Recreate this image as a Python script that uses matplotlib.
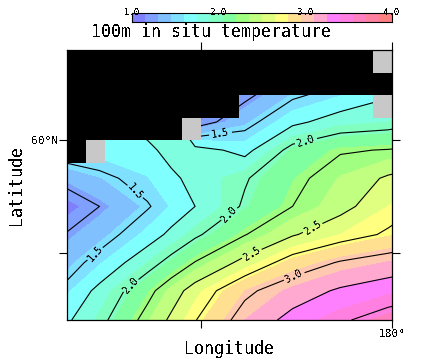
import numpy as np
import matplotlib
matplotlib.use("Agg")
import matplotlib.pyplot as plt
from matplotlib.colors import ListedColormap, BoundaryNorm

plt.rcParams['font.family'] = 'DejaVu Sans Mono'
plt.rcParams['text.antialiased'] = False

# temperature on a coarse grid, south to north
lons = [162.2, 164.7, 167.2, 168.45, 169.7, 172.3, 174.8, 177.3, 179.8, 182.3]
lats = [52.0, 53.3, 54.55, 55.8, 57.05, 58.3, 59.55, 60.8, 62.05]
temp = [
    [1.62, 1.93, 2.33, 2.54, 2.74, 3.10, 3.32, 3.47, 3.60, 3.70],
    [1.46, 1.81, 2.18, 2.39, 2.60, 2.95, 3.14, 3.28, 3.37, 3.45],
    [1.33, 1.58, 1.90, 2.08, 2.26, 2.57, 2.86, 3.02, 3.11, 3.20],
    [1.20, 1.40, 1.64, 1.80, 1.96, 2.24, 2.48, 2.65, 2.78, 2.90],
    [1.00, 1.25, 1.48, 1.61, 1.75, 2.03, 2.25, 2.43, 2.65, 2.80],
    [1.27, 1.44, 1.59, 1.71, 1.81, 1.98, 2.19, 2.36, 2.53, 2.70],
    [1.62, 1.66, 1.70, 1.82, 1.84, 1.68, 2.08, 2.23, 2.26, 2.30],
    [1.70, 1.72, 1.84, 1.95, 1.12, 1.42, 1.70, 1.85, 1.90, 2.00],
    [1.50, 1.50, 1.30, 1.20, 1.05, 1.18, 1.45, 1.58, 1.72, 1.85],
]

# land cells on the 1 degree grid: 0 sea, 1 black, 2 grey (north row first)
land_rows = [
    [1]*16 + [2],
    [1]*17,
    [1]*9 + [0]*7 + [2],
    [1]*6 + [2] + [0]*10,
    [1, 2] + [0]*15,
]
land_lon_edges = list(range(163, 181))
land_lat_edges = [59, 60, 61, 62, 63, 64]

shade_colors = ['#8080ff', '#80a0ff', '#80c0ff', '#80e0ff', '#80ffff',
                '#80ffe0', '#80ffc0', '#80ffa0', '#a0ff80', '#c0ff80',
                '#e0ff80', '#ffff80', '#ffe090', '#ffc8b0', '#ffa8d0',
                '#ff80ff', '#ff80e0', '#ff80c0', '#ff80a0', '#ff8080']
shade_levels = np.linspace(1.0, 4.0, 21)
plain_levels = [1.25, 1.75, 2.25, 2.75, 3.25, 3.5]
label_levels = [1.5, 2.0, 2.5, 3.0]
label_spots = [(164.36, 55.0), (166.92, 57.9), (171.1, 60.04),
               (166.5, 53.44), (171.5, 56.7), (175.45, 60.04),
               (172.57, 55.04), (175.87, 56.07), (174.82, 54.02)]

cmap = ListedColormap(shade_colors)
cmap.set_under(shade_colors[0])
cmap.set_over(shade_colors[-1])
norm = BoundaryNorm(shade_levels, cmap.N)

fig = plt.figure(figsize=(4.24, 3.64), dpi=100)
ax = fig.add_axes([67/424, 1-320/364, 325/424, 270/364])

ax.contourf(lons, lats, temp, levels=shade_levels, cmap=cmap, norm=norm, extend='both')
ax.contour(lons, lats, temp, levels=plain_levels, colors='k', linewidths=0.8)
cs = ax.contour(lons, lats, temp, levels=label_levels, colors='k', linewidths=0.8)
ax.clabel(cs, manual=label_spots, fmt='%.1f', fontsize=7, inline=True, inline_spacing=1)

land = np.ma.masked_equal(np.array(land_rows[::-1]), 0)
ax.pcolormesh(land_lon_edges, land_lat_edges, land, cmap=ListedColormap(['k', '#c8c8c8']),
              vmin=1, vmax=2, zorder=4)

ax.set_xlim(163, 180)
ax.set_ylim(52, 64)
ax.set_xticks([170, 180])
ax.set_xticklabels(['', '180\u00b0'], fontsize=8)
ax.set_yticks([55, 60])
ax.set_yticklabels(['', '60\u00b0N'], fontsize=8)
ax.tick_params(length=6, width=0.8, top=True, right=True, pad=0.5)
ax.set_xlabel('Longitude', fontsize=12)
ax.xaxis.set_label_coords(0.5, -0.075)
ax.set_ylabel('Latitude', fontsize=12)
ax.yaxis.set_label_coords(-0.129, 0.5)
for s in ax.spines.values():
    s.set_linewidth(0.9)
    s.set_zorder(6)

fig.text(211/424, 1-32/364, '100m in situ temperature', fontsize=12, ha='center', va='center')

# colour key above the map
cax = fig.add_axes([132/424, 1-22/364, 260/424, 9/364])
cax.pcolormesh(shade_levels, [0, 1], [shade_levels[:-1]], cmap=cmap, norm=norm)
cax.set_yticks([])
cax.set_xlim(1, 4)
cax.xaxis.tick_top()
cax.set_xticks([1, 2, 3, 4])
cax.set_xticklabels(['1.0', '2.0', '3.0', '4.0'], fontsize=6.5)
cax.tick_params(length=0, pad=-3)
for s in cax.spines.values():
    s.set_linewidth(0.8)

fig.savefig('out.png', dpi=100)
